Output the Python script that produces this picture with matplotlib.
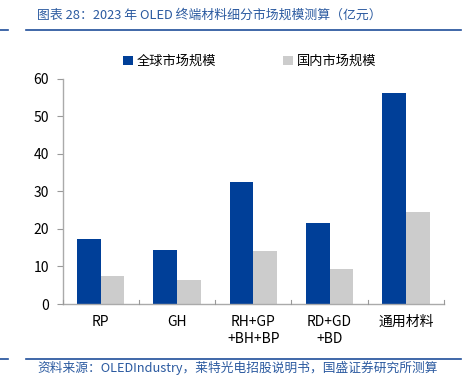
import matplotlib
matplotlib.use("Agg")
import matplotlib.pyplot as plt
import numpy as np

plt.rcParams['font.family'] = ['Noto Sans CJK SC', 'DejaVu Sans']

categories = ["RP", "GH", "RH+GP\n+BH+BP", "RD+GD\n+BD", "通用材料"]
global_vals = [17.2, 14.4, 32.5, 21.5, 56.3]
domestic_vals = [7.4, 6.3, 14.2, 9.3, 24.5]
series_names = ["全球市场规模", "国内市场规模"]
yticks = [0, 10, 20, 30, 40, 50, 60]

blue = "#003F98"
gray = "#CCCCCC"
text_blue = "#2B5AA0"
line_blue = "#1F4E9A"

fig = plt.figure(figsize=(4.7, 3.86), dpi=100)
ax = fig.add_axes([0.1334, 0.2124, 0.8113, 0.5837])

x = np.arange(len(categories))
w = 0.31
ax.bar(x - w / 2, global_vals, width=w, color=blue, label=series_names[0], zorder=2)
ax.bar(x + w / 2, domestic_vals, width=w, color=gray, label=series_names[1], zorder=2)

ax.set_xlim(-0.5, len(categories) - 0.5)
ax.set_ylim(0, 60)
ax.set_yticks(yticks)
ax.tick_params(axis='y', direction='out', length=4, color='#999999', labelsize=10, pad=6)
ax.set_xticks(x)
ax.set_xticklabels(categories, fontsize=10, linespacing=1.3)
ax.tick_params(axis='x', length=0, pad=8)
# boundary ticks
for b in np.arange(-0.5, len(categories), 1.0):
    ax.plot([b, b], [0, 1.2], color='#999999', lw=0.8, clip_on=False, zorder=3)

for s in ['top', 'right']:
    ax.spines[s].set_visible(False)
for s in ['left', 'bottom']:
    ax.spines[s].set_color('#AAAAAA')
    ax.spines[s].set_linewidth(1.0)

leg = ax.legend(loc='lower center', bbox_to_anchor=(0.49, 1.0), ncol=2, frameon=False,
                fontsize=9.5, handlelength=0.75, handleheight=0.75, columnspacing=5.1,
                handletextpad=0.25, borderaxespad=0.4)

# title
fig.text(37 / 470, 1 - 15 / 386, "图表 28：2023 年 OLED 终端材料细分市场规模测算（亿元）",
         color=text_blue, fontsize=9.25, style='italic', va='center', ha='left')
# header lines
fig.add_artist(plt.Line2D([0, 8 / 470], [1 - 30 / 386] * 2, color=line_blue, lw=1.2))
fig.add_artist(plt.Line2D([26 / 470, 461 / 470], [1 - 30 / 386] * 2, color=line_blue, lw=1.2))
# footer lines
fig.add_artist(plt.Line2D([0, 8 / 470], [1 - 359 / 386] * 2, color=line_blue, lw=1.2))
fig.add_artist(plt.Line2D([26 / 470, 461 / 470], [1 - 359 / 386] * 2, color=line_blue, lw=1.2))
fig.text(37 / 470, 1 - 368 / 386, "资料来源：OLEDIndustry，莱特光电招股说明书，国盛证券研究所测算",
         color=text_blue, fontsize=9.15, style='italic', va='center', ha='left')

fig.savefig("out.png", dpi=100)
